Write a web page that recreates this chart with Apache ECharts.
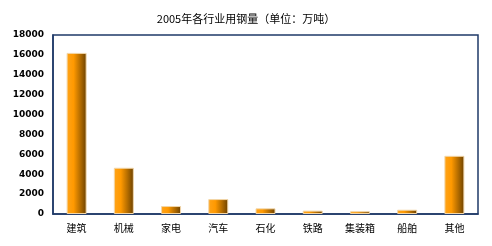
<!DOCTYPE html>
<html>
    <head>
        <meta charset="UTF-8">
        <title>2005年各行业用钢量</title>
        <script type="text/javascript" src="https://cdn.jsdelivr.net/npm/echarts@6/dist/echarts.min.js"></script>
        <style>
            html, body { margin: 0; padding: 0; background: #fff; }
        </style>
    </head>
    <body>
        <div id="container" style="width:492px;height:246px"></div>
        <script type="text/javascript">
            var categories = ['建筑', '机械', '家电', '汽车', '石化', '铁路', '集装箱', '船舶', '其他'];
            var steelUse = [16200, 4650, 800, 1500, 570, 340, 280, 430, 5850];
            var yTicks = [0, 2000, 4000, 6000, 8000, 10000, 12000, 14000, 16000, 18000];

            var myChart = echarts.init(document.getElementById('container'));
            var navy = '#1f3a68';
            var option = {
                animation: false,
                title: {
                    text: '2005年各行业用钢量（单位：万吨）',
                    left: 'center',
                    top: 8,
                    textStyle: {
                        color: '#000',
                        fontSize: 11,
                        fontWeight: 'normal',
                        fontFamily: 'Noto Sans CJK SC'
                    }
                },
                grid: {
                    left: 53,
                    right: 14,
                    top: 35,
                    bottom: 32,
                    show: true,
                    borderColor: navy,
                    borderWidth: 1.5
                },
                xAxis: {
                    type: 'category',
                    data: categories,
                    axisLine: { lineStyle: { color: navy, width: 1.5 } },
                    axisTick: { inside: true, length: 3, lineStyle: { color: navy } },
                    axisLabel: {
                        color: '#000',
                        fontSize: 10,
                        margin: 9,
                        fontFamily: 'Noto Sans CJK SC'
                    }
                },
                yAxis: {
                    type: 'value',
                    min: yTicks[0],
                    max: yTicks[yTicks.length - 1],
                    interval: yTicks[1] - yTicks[0],
                    splitLine: { show: false },
                    axisLine: { show: true, lineStyle: { color: navy, width: 1.5 } },
                    axisTick: { show: false },
                    axisLabel: {
                        color: '#000',
                        fontSize: 9,
                        fontWeight: 'bold',
                        margin: 9,
                        fontFamily: 'DejaVu Sans',
                        formatter: function (v) { return String(v); }
                    }
                },
                series: [{
                        type: 'bar',
                        data: steelUse,
                        barWidth: 20,
                        itemStyle: {
                            borderColor: '#f2d6a8',
                            borderWidth: 1,
                            color: new echarts.graphic.LinearGradient(0, 0, 1, 0, [
                                { offset: 0, color: '#ffa41a' },
                                { offset: 0.35, color: '#ff9900' },
                                { offset: 0.7, color: '#b06a00' },
                                { offset: 1, color: '#6a4000' }
                            ])
                        }
                    }
                ]
            };
            myChart.setOption(option);
        </script>
    </body>
</html>
